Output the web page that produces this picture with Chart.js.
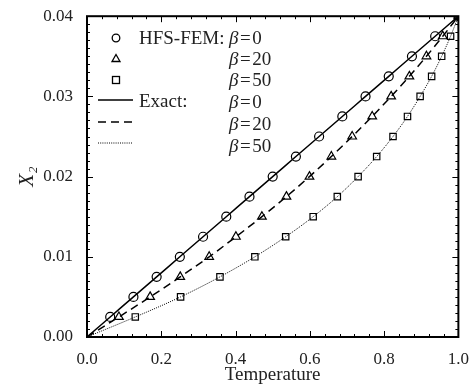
<!DOCTYPE html>
<html>
<head>
<meta charset="utf-8">
<script src="https://cdn.jsdelivr.net/npm/chart.js@4.4.1/dist/chart.umd.min.js"></script>
<style>
  html, body { margin: 0; padding: 0; background: #fff; }
  #wrap { position: relative; width: 473px; height: 390px; }
  #wrap canvas { position: absolute; left: 0; top: 0; }
  .lg { position: absolute; font-family: "Liberation Serif", serif; font-size: 19px; color: #222; line-height: 20px; white-space: nowrap; }
  .lg i { font-style: italic; }
  .sym { position: absolute; }
</style>
</head>
<body>
<div id="wrap">
  <canvas id="chart" width="473" height="390"></canvas>

  <svg class="sym" style="left:98px;top:28px" width="36" height="124">
    <circle cx="18" cy="10" r="3.8" fill="none" stroke="#000" stroke-width="1.3"/>
    <polygon points="18,26.5 22,33.5 14,33.5" fill="none" stroke="#000" stroke-width="1.3"/>
    <rect x="14.5" y="48.5" width="7" height="7" fill="none" stroke="#000" stroke-width="1.3"/>
    <line x1="0" y1="72" x2="35" y2="72" stroke="#000" stroke-width="1.5"/>
    <line x1="0" y1="94" x2="35" y2="94" stroke="#000" stroke-width="1.5" stroke-dasharray="8,5"/>
    <line x1="0" y1="115" x2="35" y2="115" stroke="#000" stroke-width="1" stroke-dasharray="1,1.2"/>
  </svg>

  <div class="lg" style="left:139px;top:28px">HFS-FEM:</div>
  <div class="lg" style="left:139px;top:91px">Exact:</div>
  <div class="lg" style="left:229px;top:28px"><i>β</i>&#8202;=&#8202;0</div>
  <div class="lg" style="left:229px;top:49px"><i>β</i>&#8202;=&#8202;20</div>
  <div class="lg" style="left:229px;top:70px"><i>β</i>&#8202;=&#8202;50</div>
  <div class="lg" style="left:229px;top:92px"><i>β</i>&#8202;=&#8202;0</div>
  <div class="lg" style="left:229px;top:114px"><i>β</i>&#8202;=&#8202;20</div>
  <div class="lg" style="left:229px;top:136px"><i>β</i>&#8202;=&#8202;50</div>
</div>

<script>
// X2 levels at which the HFS-FEM points are sampled
const x2Values = [0.0025, 0.005, 0.0075, 0.01, 0.0125, 0.015, 0.0175, 0.02,
                  0.0225, 0.025, 0.0275, 0.03, 0.0325, 0.035, 0.0375, 0.04];

// temperatures for each beta
const tempBeta0 = [0.0625, 0.125, 0.1875, 0.25, 0.3125, 0.375, 0.4375, 0.5,
                   0.5625, 0.625, 0.6875, 0.75, 0.8125, 0.875, 0.9375, 1.0];
const tempBeta20 = [0.086, 0.170, 0.251, 0.329, 0.401, 0.471, 0.537, 0.599,
                    0.658, 0.714, 0.768, 0.819, 0.868, 0.914, 0.958, 1.0];
const tempBeta50 = [0.130, 0.252, 0.358, 0.452, 0.535, 0.609, 0.674, 0.730,
                    0.780, 0.824, 0.863, 0.897, 0.928, 0.955, 0.979, 1.0];

const xTicks = [0, 0.2, 0.4, 0.6, 0.8, 1.0];
const yTicks = [0, 0.01, 0.02, 0.03, 0.04];

const toPts = (temps) => temps.map((t, i) => ({ x: t, y: x2Values[i] }));
// exact curves start at the origin
const toCurve = (temps) => [{ x: 0, y: 0 }].concat(toPts(temps));

const serif = "'Liberation Serif', serif";

// box frame with inward major/minor ticks on all four sides
const frameTicks = {
  id: 'frameTicks',
  afterDraw(chart) {
    const { ctx, chartArea: a, scales: { x, y } } = chart;
    ctx.save();
    ctx.strokeStyle = '#000';
    ctx.lineWidth = 1;
    ctx.beginPath();
    for (let i = 0; i <= 25; i++) {
      const px = Math.round(x.getPixelForValue(i * 0.04)) + 0.5;
      const len = i % 5 === 0 ? 6 : 3;
      ctx.moveTo(px, a.bottom); ctx.lineTo(px, a.bottom - len);
      ctx.moveTo(px, a.top); ctx.lineTo(px, a.top + len);
    }
    for (let i = 0; i <= 40; i++) {
      const py = Math.round(y.getPixelForValue(i * 0.001)) + 0.5;
      const len = i % 10 === 0 ? 6 : 3;
      ctx.moveTo(a.left, py); ctx.lineTo(a.left + len, py);
      ctx.moveTo(a.right, py); ctx.lineTo(a.right - len, py);
    }
    ctx.stroke();
    ctx.lineWidth = 2;
    ctx.strokeRect(a.left, a.top, a.right - a.left, a.bottom - a.top);
    ctx.restore();
  }
};

const lineDs = (data, dash, width) => ({
  data, showLine: true, borderColor: '#000', borderWidth: width,
  borderDash: dash, pointRadius: 0, cubicInterpolationMode: 'monotone', fill: false
});
const markDs = (data, style, r) => ({
  data, showLine: false, pointStyle: style, pointRadius: r,
  pointBorderColor: '#000', pointBackgroundColor: 'rgba(0,0,0,0)', pointBorderWidth: 1.2
});

new Chart(document.getElementById('chart'), {
  type: 'scatter',
  data: {
    datasets: [
      lineDs(toCurve(tempBeta0), [], 1.5),
      lineDs(toCurve(tempBeta20), [8, 5], 1.5),
      lineDs(toCurve(tempBeta50), [1, 1.2], 1),
      markDs(toPts(tempBeta0), 'circle', 4.5),
      markDs(toPts(tempBeta20), 'triangle', 5),
      markDs(toPts(tempBeta50), 'rect', 4.5)
    ]
  },
  options: {
    responsive: false,
    animation: false,
    layout: { padding: { left: 11, right: 11, top: 16, bottom: 0 } },
    plugins: { legend: { display: false }, tooltip: { enabled: false } },
    scales: {
      x: {
        type: 'linear', min: 0, max: 1,
        afterFit: (s) => { s.height = 53; },
        afterBuildTicks: (s) => { s.ticks = xTicks.map(v => ({ value: v })); },
        grid: { display: false },
        border: { display: false },
        ticks: {
          color: '#222', padding: 4,
          font: { family: serif, size: 17 },
          callback: (v) => v.toFixed(1)
        },
        title: {
          display: true, text: 'Temperature', color: '#222',
          font: { family: serif, size: 19 }, padding: { top: 2 }
        }
      },
      y: {
        type: 'linear', min: 0, max: 0.04,
        afterFit: (s) => { s.width = 76; },
        afterBuildTicks: (s) => { s.ticks = yTicks.map(v => ({ value: v })); },
        grid: { display: false },
        border: { display: false },
        ticks: {
          color: '#222', padding: 6,
          font: { family: serif, size: 17 },
          callback: (v) => v.toFixed(2)
        },
        title: {
          display: true, text: 'X₂', color: '#222',
          font: { family: serif, size: 21, style: 'italic' }, padding: { top: 4, bottom: 0 }
        }
      }
    }
  },
  plugins: [frameTicks]
});
</script>
</body>
</html>
